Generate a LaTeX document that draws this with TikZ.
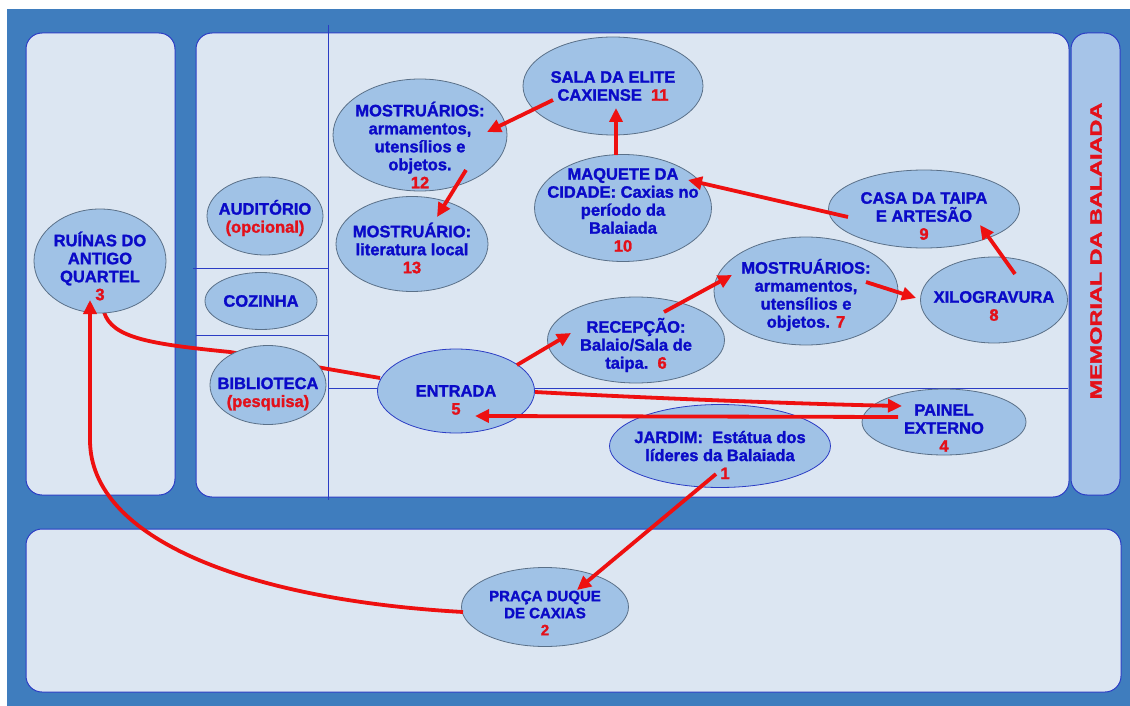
\documentclass[tikz,border=0pt]{standalone}
\usepackage{fontspec}
\setmainfont{Liberation Sans}[BoldFeatures={FakeBold=1.5}]
\usetikzlibrary{arrows.meta,shapes.geometric}
\definecolor{bgblue}{HTML}{3F7DBE}
\definecolor{panelfill}{HTML}{DCE6F2}
\definecolor{paneledge}{HTML}{2B3CC4}
\definecolor{sidefill}{HTML}{A6C4E8}
\definecolor{roomfill}{HTML}{A0C2E6}
\definecolor{roomedge}{HTML}{5A7088}
\definecolor{textblue}{HTML}{0A0AC8}
\definecolor{numred}{HTML}{E3101A}
\definecolor{arrred}{HTML}{EE1010}
\newcommand{\stopnum}[1]{\textcolor{numred}{#1}}
\pgfdeclarelayer{base}
\pgfdeclarelayer{behind}
\pgfsetlayers{base,behind,main}

\begin{document}
\begin{tikzpicture}[x=1pt, y=-1pt, font=\bfseries\fontsize{16.5}{18}\selectfont,
  panel/.style={draw=paneledge, fill=panelfill, line width=1pt, rounded corners=16pt},
  wall/.style={draw=paneledge, line width=0.8pt},
  room/.style 2 args={ellipse, draw=roomedge, fill=roomfill, line width=0.8pt, inner sep=0pt, minimum width=#1, minimum height=#2},
  hall/.style={draw=paneledge},
  roomtext/.style={align=center, text=textblue, inner sep=0pt, yshift=-5pt},
  link/.style={line width=3.8pt, draw=arrred},
  arr/.style={link, -{Triangle[length=14pt,width=13pt]}}]
  \useasboundingbox (0,0) rectangle (1130,706);
  \begin{pgfonlayer}{base}
    \fill[white] (0,0) rectangle (1130,706);
    \fill[bgblue] (7,9) rectangle (1130,706);
    \draw[panel] (26,33) rectangle (175,495);
    \draw[panel] (196,33) rectangle (1069,497);
    \draw[panel, fill=sidefill] (1071,33) rectangle (1120,495);
    \draw[panel] (26,529) rectangle (1121,692);
    \draw[wall] (328,25) -- (328,500);
    \draw[wall] (193,268) -- (328,268);
    \draw[wall] (196,335) -- (328,335);
    \draw[wall] (328,388) -- (1068,388);
  \end{pgfonlayer}

  \node[room={132pt}{104pt}, label={[roomtext]center:{RUÍNAS DO\\ANTIGO\\QUARTEL\\\stopnum{3}}}] (ruinas) at (100,261) {};
  \node[room={116pt}{78pt}, label={[roomtext, yshift=3pt]center:{AUDITÓRIO\\\stopnum{(opcional)}}}] (auditorio) at (265,216) {};
  \node[room={112pt}{57pt}, label={[roomtext, yshift=5pt]center:{COZINHA}}] (cozinha) at (261,301) {};
  \node[room={116pt}{79pt}, label={[roomtext, yshift=-4pt]center:{BIBLIOTECA\\\stopnum{(pesquisa)}}}] (biblioteca) at (268,385) {};
  \node[room={157pt}{84pt}, hall, label={[roomtext, yshift=-4pt]center:{ENTRADA\\\stopnum{5}}}] (entrada) at (456,391) {};
  \node[room={177pt}{86pt}, label={[roomtext]center:{RECEPÇÃO:\\Balaio/Sala de\\taipa.~~\stopnum{6}}}] (recepcao) at (636,340) {};
  \node[room={221pt}{83pt}, hall, label={[roomtext, yshift=-4pt]center:{JARDIM:~~Estátua dos\\líderes da Balaiada\\\hspace*{10pt}\stopnum{1}}}] (jardim) at (720,446) {};
  \node[room={174pt}{112pt}, label={[roomtext, yshift=-5pt]center:{MOSTRUÁRIOS:\\armamentos,\\utensílios e\\objetos.\\\stopnum{12}}}] (mostruario12) at (420,135) {};
  \node[room={152pt}{95pt}, label={[roomtext, yshift=1pt]center:{MOSTRUÁRIO:\\literatura local\\\stopnum{13}}}] (mostruario13) at (412,244) {};
  \node[room={180pt}{98pt}, label={[roomtext, yshift=5pt]center:{SALA DA ELITE\\CAXIENSE~~\stopnum{11}}}] (sala) at (613,86) {};
  \node[room={177pt}{107pt}, label={[roomtext, yshift=3pt]center:{MAQUETE DA\\CIDADE: Caxias no\\período da\\Balaiada\\\stopnum{10}}}] (maquete) at (623,208) {};
  \node[room={191pt}{78pt}, label={[roomtext, yshift=-2pt]center:{CASA DA TAIPA\\E ARTESÃO\\\stopnum{9}}}] (casa) at (924,209) {};
  \node[room={184pt}{108pt}, label={[roomtext, yshift=1pt]center:{MOSTRUÁRIOS:\\armamentos,\\utensílios e\\objetos. \stopnum{7}}}] (mostruario7) at (806,291) {};
  \node[room={147pt}{86pt}, label={[roomtext, yshift=-1pt]center:{XILOGRAVURA\\\stopnum{8}}}] (xilo) at (994,300) {};
  \node[room={164pt}{66pt}, label={[roomtext, yshift=-1pt]center:{PAINEL\\EXTERNO\\\stopnum{4}}}] (painel) at (944,422) {};
  \node[room={167pt}{79pt}, label={[roomtext, yshift=-1pt, font=\bfseries\fontsize{15}{17}\selectfont]center:{PRAÇA DUQUE\\DE CAXIAS\\\stopnum{2}}}] (praca) at (545,607) {};
  \node[rotate=90, text=numred] (memorial) at (1096,251) {\scalebox{1.42}[1]{MEMORIAL DA BALAIADA}};

  % route behind biblioteca and entrada
  \begin{pgfonlayer}{behind}
    \draw[link] ([shift={(4,51)}]ruinas.center) .. controls +(8,26) and +(-80,-8) .. (230,352) -- ([shift={(-76,-13)}]entrada.center);
  \end{pgfonlayer}
  \draw[arr] ([shift={(-4,28)}]jardim.center) -- ([shift={(32,-17)}]praca.center);
  \draw[arr] ([shift={(-82,5)}]praca.center) .. controls +(-213,-12) and +(0,100) .. ([shift={(-10,179)}]ruinas.center) -- ([shift={(-10,39)}]ruinas.center);
  \draw[arr] ([shift={(79,1)}]entrada.center) .. controls +(110,6) and +(-100,-2) .. ([shift={(-42,-16)}]painel.center);
  \draw[arr] ([shift={(-46,-5)}]painel.center) -- ([shift={(19,25)}]entrada.center);
  \draw[arr] ([shift={(61,-26)}]entrada.center) -- ([shift={(-65,-7)}]recepcao.center);
  \draw[arr] ([shift={(28,-28)}]recepcao.center) -- ([shift={(-74,-16)}]mostruario7.center);
  \draw[arr] ([shift={(60,-9)}]mostruario7.center) -- ([shift={(-78,-2)}]xilo.center);
  \draw[arr] ([shift={(21,-26)}]xilo.center) -- ([shift={(56,16)}]casa.center);
  \draw[arr] ([shift={(-76,8)}]casa.center) -- ([shift={(65,-28)}]maquete.center);
  \draw[arr] ([shift={(-7,-53)}]maquete.center) -- ([shift={(3,22)}]sala.center);
  \draw[arr] ([shift={(-60,14)}]sala.center) -- ([shift={(67,-3)}]mostruario12.center);
  \draw[arr] ([shift={(46,35)}]mostruario12.center) -- ([shift={(25,-27)}]mostruario13.center);
\end{tikzpicture}
\end{document}
